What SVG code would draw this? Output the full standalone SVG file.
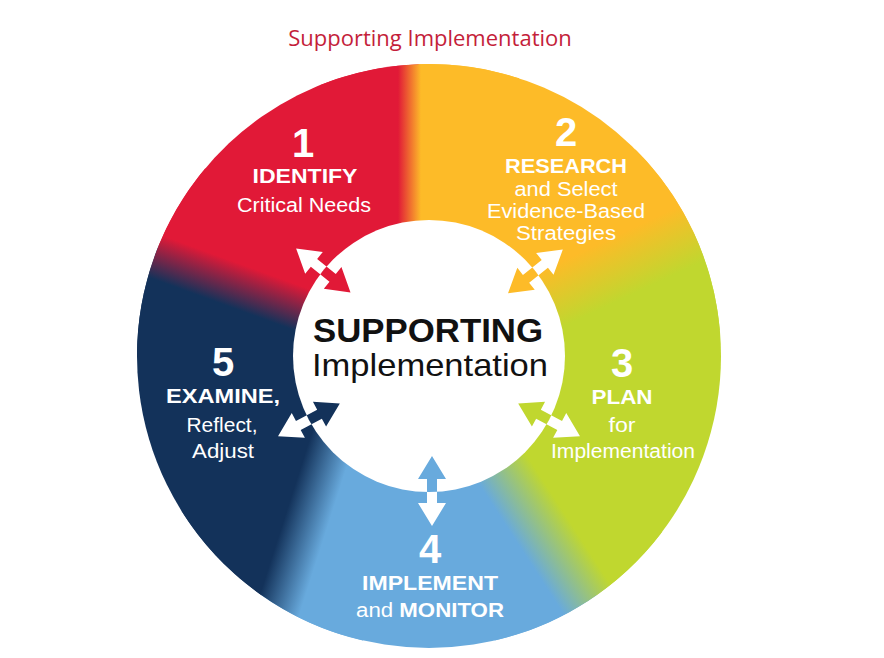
<svg xmlns="http://www.w3.org/2000/svg" width="884" height="658" viewBox="0 0 884 658">
<style>
.t{font-family:"Liberation Sans",Arial,sans-serif;fill:#fff;text-anchor:middle}
.n{font-size:40px;font-weight:bold}
.b{font-size:20px;font-weight:bold}
.r{font-size:20px}
.title{font-family:"Open Sans","Liberation Sans",sans-serif;font-size:22px;fill:#C41E3A;text-anchor:middle}
.c{font-family:"Liberation Sans",Arial,sans-serif;fill:#111;text-anchor:middle}
</style>
<defs>
<linearGradient id="gNR" gradientUnits="userSpaceOnUse" x1="220.39" y1="303.48" x2="235.43" y2="262.14"><stop offset="0" stop-color="#13325A"/><stop offset="1" stop-color="#E11937"/></linearGradient>
<linearGradient id="gRO" gradientUnits="userSpaceOnUse" x1="398" y1="142" x2="421" y2="142"><stop offset="0" stop-color="#E11937"/><stop offset="1" stop-color="#FDBB28"/></linearGradient>
<linearGradient id="gOG" gradientUnits="userSpaceOnUse" x1="610.27" y1="238.37" x2="635.63" y2="292.75"><stop offset="0" stop-color="#FDBB28"/><stop offset="1" stop-color="#C0D72F"/></linearGradient>
<linearGradient id="gGB" gradientUnits="userSpaceOnUse" x1="569.03" y1="520.23" x2="522.07" y2="550.73"><stop offset="0" stop-color="#C0D72F"/><stop offset="1" stop-color="#68AADD"/></linearGradient>
<linearGradient id="gBN" gradientUnits="userSpaceOnUse" x1="322.9" y1="541.7" x2="281.1" y2="528.3"><stop offset="0" stop-color="#68AADD"/><stop offset="1" stop-color="#13325A"/></linearGradient>
<path id="arr" d="M35,0 L12,-14 L12,-5 L-12,-5 L-12,-14 L-35,0 L-12,14 L-12,5 L12,5 L12,14 Z"/>
<clipPath id="inside"><circle cx="429" cy="356" r="136"/></clipPath>
<clipPath id="outside"><path clip-rule="evenodd" d="M0,0H884V658H0Z M293,356 A136,136 0 1,0 565,356 A136,136 0 1,0 293,356 Z"/></clipPath>
</defs>
<rect width="884" height="658" fill="#fff"/>
<text class="title" x="430" y="46">Supporting Implementation</text>

<g id="ring">
<path fill="#E11937" d="M429,356 L158.26,246.61 A292,292 0 0,1 418.81,64.18 Z"/>
<path fill="#FDBB28" d="M429,356 L418.81,64.18 A292,292 0 0,1 693.64,232.60 Z"/>
<path fill="#C0D72F" d="M429,356 L693.64,232.60 A292,292 0 0,1 596.48,595.19 Z"/>
<path fill="#68AADD" d="M429,356 L596.48,595.19 A292,292 0 0,1 261.52,595.19 Z"/>
<path fill="#13325A" d="M429,356 L261.52,595.19 A292,292 0 0,1 158.26,246.61 Z"/>
<path fill="url(#gNR)" d="M429,356 L137,356 A292,292 0 0,1 205.32,168.31 Z"/>
<path fill="url(#gRO)" d="M429,356 L319.61,85.26 A292,292 0 0,1 519.23,78.29 Z"/>
<path fill="url(#gOG)" d="M429,356 L635.47,149.53 A292,292 0 0,1 719.89,330.55 Z"/>
<path fill="url(#gGB)" d="M429,356 L662.20,531.73 A292,292 0 0,1 494.69,640.52 Z"/>
<path fill="url(#gBN)" d="M429,356 L363.00,640.50 A292,292 0 0,1 181.37,510.74 Z"/>
</g>

<g id="center">
<circle cx="429" cy="356" r="136" fill="#fff"/>
<text class="c" x="428" y="342" font-size="34" font-weight="bold" textLength="230" lengthAdjust="spacingAndGlyphs">SUPPORTING</text>
<text class="c" x="430" y="376" font-size="32" textLength="236" lengthAdjust="spacingAndGlyphs">Implementation</text>
</g>

<g id="connectors">
<g clip-path="url(#outside)" fill="#fff">
<use href="#arr" transform="translate(323.31,270.41) rotate(39)"/>
<use href="#arr" transform="translate(535.43,271.34) rotate(-38.5)"/>
<use href="#arr" transform="translate(549.08,419.85) rotate(28)"/>
<use href="#arr" transform="translate(432,491) rotate(90)"/>
<use href="#arr" transform="translate(308.92,419.85) rotate(-28)"/>
</g>
<g clip-path="url(#inside)">
<use href="#arr" fill="#E11937" transform="translate(323.31,270.41) rotate(39)"/>
<use href="#arr" fill="#FDBB28" transform="translate(535.43,271.34) rotate(-38.5)"/>
<use href="#arr" fill="#C0D72F" transform="translate(549.08,419.85) rotate(28)"/>
<use href="#arr" fill="#68AADD" transform="translate(432,491) rotate(90)"/>
<use href="#arr" fill="#13325A" transform="translate(308.92,419.85) rotate(-28)"/>
</g>
</g>

<g id="step1">
<text class="t n" x="303" y="157">1</text>
<text class="t b" x="305" y="183" textLength="105" lengthAdjust="spacingAndGlyphs">IDENTIFY</text>
<text class="t r" x="304" y="212" textLength="134" lengthAdjust="spacingAndGlyphs">Critical Needs</text>
</g>
<g id="step2">
<text class="t n" x="566" y="146">2</text>
<text class="t b" x="566" y="173" textLength="122" lengthAdjust="spacingAndGlyphs">RESEARCH</text>
<text class="t r" x="566" y="196" textLength="103" lengthAdjust="spacingAndGlyphs">and Select</text>
<text class="t r" x="566" y="218" textLength="158" lengthAdjust="spacingAndGlyphs">Evidence-Based</text>
<text class="t r" x="566" y="240" textLength="100" lengthAdjust="spacingAndGlyphs">Strategies</text>
</g>
<g id="step3">
<text class="t n" x="622" y="377">3</text>
<text class="t b" x="622" y="404" textLength="61" lengthAdjust="spacingAndGlyphs">PLAN</text>
<text class="t r" x="622" y="432" textLength="27" lengthAdjust="spacingAndGlyphs">for</text>
<text class="t r" x="623" y="458" textLength="144" lengthAdjust="spacingAndGlyphs">Implementation</text>
</g>
<g id="step4">
<text class="t n" x="430" y="563">4</text>
<text class="t b" x="430" y="590" textLength="136" lengthAdjust="spacingAndGlyphs">IMPLEMENT</text>
<text class="t" x="430" y="617" font-size="20" textLength="148" lengthAdjust="spacingAndGlyphs"><tspan>and </tspan><tspan font-weight="bold">MONITOR</tspan></text>
</g>
<g id="step5">
<text class="t n" x="223" y="376">5</text>
<text class="t b" x="223" y="403" textLength="114" lengthAdjust="spacingAndGlyphs">EXAMINE,</text>
<text class="t r" x="222" y="432" textLength="71" lengthAdjust="spacingAndGlyphs">Reflect,</text>
<text class="t r" x="223" y="458" textLength="62" lengthAdjust="spacingAndGlyphs">Adjust</text>
</g>
</svg>
